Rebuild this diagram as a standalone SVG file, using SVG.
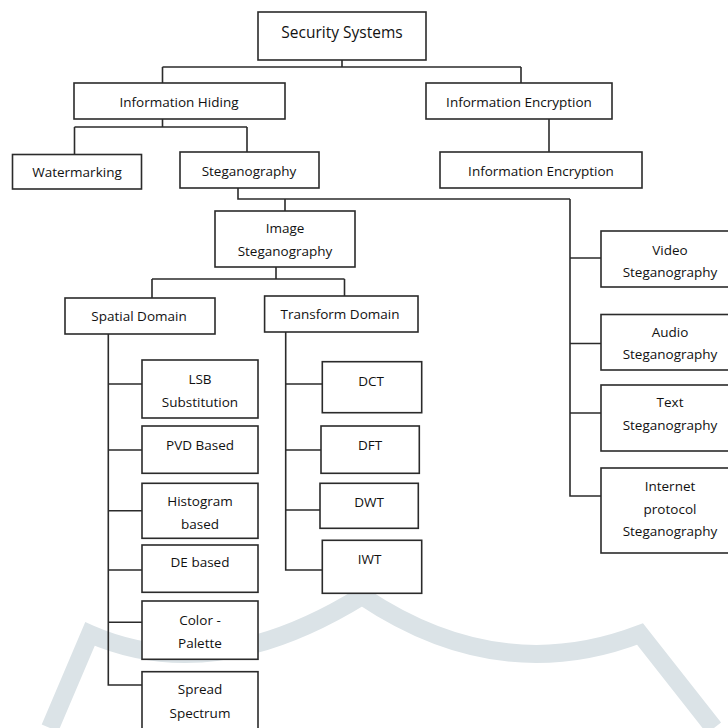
<svg xmlns="http://www.w3.org/2000/svg" width="728" height="728" viewBox="0 0 728 728">
<style>
.b{fill:#fff;stroke:#2b2b2b;stroke-width:1.6}
.t{font-family:"Open Sans","Liberation Sans",sans-serif;font-size:13.5px;fill:#111;text-anchor:middle}
.c{fill:none;stroke:#2b2b2b;stroke-width:1.6}
.wm{fill:none;stroke:#dbe3e7;stroke-width:18;stroke-linejoin:miter}
</style>
<rect width="728" height="728" fill="#fff"/>
<g id="watermark">
<path class="wm" d="M50 728 L90 634 Q213 688 362 596 Q499 688 640 634 L714 728"/>
</g>
<g id="connectors">
<path class="c" d="M342 60 V67 M162.5 67 H521 M162.5 67 V83 M521 67 V83"/>
<path class="c" d="M162.5 119 V127 M74.5 127 H247 M74.5 127 V154.5 M247 127 V152"/>
<path class="c" d="M549 119 V152"/>
<path class="c" d="M238 188 V199 H570 M285 199 V211"/>
<path class="c" d="M570 199 V496 H601 M570 258 H601 M570 343.5 H601 M570 413 H601"/>
<path class="c" d="M276 267 V279 M152 279 H344.5 M152 279 V298 M344.5 279 V296"/>
<path class="c" d="M108.3 334 V685 H142 M108.3 384 H142 M108.3 450 H142 M108.3 510.7 H142 M108.3 570 H142 M108.3 622.3 H142"/>
<path class="c" d="M285.7 332 V570 H322.3 M285.7 384 H322.3 M285.7 450 H321 M285.7 510 H320"/>
</g>
<g id="security-systems"><rect class="b" x="258" y="12" width="168" height="48"/><text class="t" x="342" y="38" style="font-size:15.5px">Security Systems</text></g>
<g id="information-hiding"><rect class="b" x="74" y="83" width="211" height="36"/><text class="t" x="179" y="107">Information Hiding</text></g>
<g id="information-encryption"><rect class="b" x="426" y="83" width="186" height="36"/><text class="t" x="519" y="107">Information Encryption</text></g>
<g id="watermarking"><rect class="b" x="12.5" y="154.5" width="129" height="34.5"/><text class="t" x="77" y="177">Watermarking</text></g>
<g id="steganography"><rect class="b" x="180" y="152" width="139" height="36"/><text class="t" x="249" y="175.5">Steganography</text></g>
<g id="information-encryption-2"><rect class="b" x="440" y="152" width="202" height="36"/><text class="t" x="541" y="176">Information Encryption</text></g>
<g id="image-steganography"><rect class="b" x="215" y="211" width="140" height="56"/><text class="t" x="285" y="233">Image</text><text class="t" x="285" y="256">Steganography</text></g>
<g id="spatial-domain"><rect class="b" x="65" y="298" width="150" height="36"/><text class="t" x="139" y="321">Spatial Domain</text></g>
<g id="transform-domain"><rect class="b" x="264.6" y="296" width="153.4" height="36"/><text class="t" x="340" y="318.5">Transform Domain</text></g>
<g id="video-steganography"><rect class="b" x="601" y="231" width="140" height="56"/><text class="t" x="670" y="255">Video</text><text class="t" x="670" y="277">Steganography</text></g>
<g id="audio-steganography"><rect class="b" x="601" y="314.5" width="140" height="55.5"/><text class="t" x="670" y="337">Audio</text><text class="t" x="670" y="359">Steganography</text></g>
<g id="text-steganography"><rect class="b" x="601" y="385" width="140" height="66"/><text class="t" x="670" y="407">Text</text><text class="t" x="670" y="430">Steganography</text></g>
<g id="internet-protocol-steganography"><rect class="b" x="601" y="468" width="140" height="85"/><text class="t" x="670" y="491">Internet</text><text class="t" x="670" y="514">protocol</text><text class="t" x="670" y="536">Steganography</text></g>
<g id="lsb-substitution"><rect class="b" x="142" y="360" width="116" height="58"/><text class="t" x="200" y="384">LSB</text><text class="t" x="200" y="407">Substitution</text></g>
<g id="pvd-based"><rect class="b" x="142" y="426" width="116" height="47.3"/><text class="t" x="200" y="450">PVD Based</text></g>
<g id="histogram-based"><rect class="b" x="142" y="483.3" width="116" height="55"/><text class="t" x="200" y="506">Histogram</text><text class="t" x="200" y="528.5">based</text></g>
<g id="de-based"><rect class="b" x="142" y="545" width="116" height="47.3"/><text class="t" x="200" y="567">DE based</text></g>
<g id="color-palette"><rect class="b" x="142" y="601" width="116" height="58.3"/><text class="t" x="200" y="625">Color -</text><text class="t" x="200" y="648">Palette</text></g>
<g id="spread-spectrum"><rect class="b" x="142" y="671.7" width="116" height="70"/><text class="t" x="200" y="694">Spread</text><text class="t" x="200" y="717.5">Spectrum</text></g>
<g id="dct"><rect class="b" x="322.3" y="361.7" width="99.4" height="51"/><text class="t" x="371" y="385.5">DCT</text></g>
<g id="dft"><rect class="b" x="321" y="426" width="98.3" height="47.3"/><text class="t" x="370" y="450">DFT</text></g>
<g id="dwt"><rect class="b" x="320" y="483.3" width="98.3" height="45"/><text class="t" x="369" y="506.5">DWT</text></g>
<g id="iwt"><rect class="b" x="322.3" y="540.3" width="99.4" height="53"/><text class="t" x="369.5" y="564">IWT</text></g>
</svg>
